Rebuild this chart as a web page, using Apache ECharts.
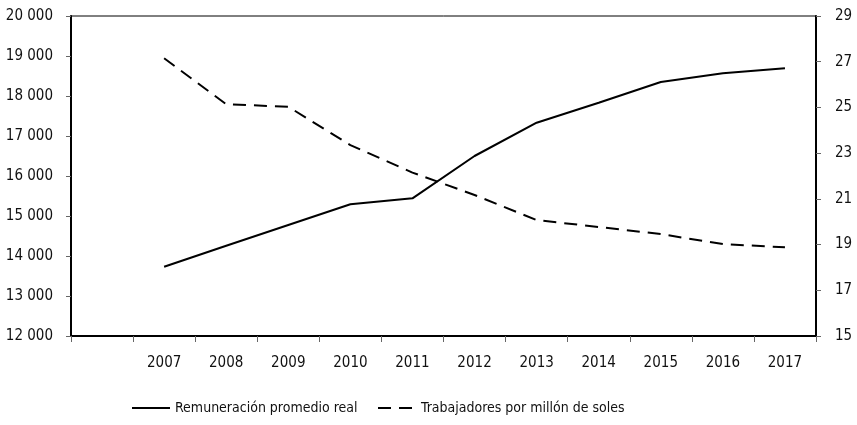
<!DOCTYPE html>
<html><head><meta charset="utf-8">
<script src="https://cdn.jsdelivr.net/npm/echarts@6/dist/echarts.min.js"></script>
<style>html,body{margin:0;padding:0;background:#fff}#c{width:857px;height:425px}</style>
</head><body><div id="c"></div>
<script>
const categories = ["", "2007","2008","2009","2010","2011","2012","2013","2014","2015","2016","2017"];
const remuneracion = [null, 13733, 14258, 14775, 15292, 15442, 16500, 17333, 17833, 18350, 18567, 18692];
const trabajadores = [null, 27.15, 25.14, 25.03, 23.35, 22.15, 21.17, 20.07, 19.77, 19.46, 19.02, 18.88];
const leftTicks = {min: 12000, max: 20000, interval: 1000};
const rightTicks = {min: 15, max: 29, interval: 2};
const seriesNames = ["Remuneración promedio real", "Trabajadores por millón de soles"];

const FONT = '"DejaVu Sans Condensed","Liberation Sans Narrow",sans-serif';
const chart = echarts.init(document.getElementById('c'), null, {renderer: 'canvas'});
const fmt = v => String(v).replace(/\B(?=(\d{3})+(?!\d))/g, ' ');
const legendText = {fontFamily: FONT, fontSize: 14, color: '#111'};
const DASH = [13, 8];
chart.setOption({
  animation: false,
  backgroundColor: '#fff',
  grid: {left: 71, right: 41, top: 16, bottom: 89, show: true, borderColor: '#000', borderWidth: 1},
  legend: [
    {left: 131, top: 401, padding: 0, itemWidth: 38, itemHeight: 14, textStyle: legendText,
     itemStyle: {opacity: 0}, lineStyle: {color: '#000', width: 2, type: 'solid'}, data: [seriesNames[0]]},
    {left: 377, top: 401, padding: 0, itemWidth: 38, itemHeight: 14, textStyle: legendText,
     itemStyle: {opacity: 0}, lineStyle: {color: '#000', width: 2, type: DASH}, data: [seriesNames[1]]}
  ],
  xAxis: {
    type: 'category', data: categories, boundaryGap: true,
    axisLine: {lineStyle: {color: '#000', width: 2}},
    axisTick: {show: true, length: 6, lineStyle: {color: '#666', width: 1}},
    axisLabel: {fontFamily: FONT, fontSize: 15, color: '#111', margin: 20, interval: 0},
    splitLine: {show: false}
  },
  yAxis: [{
    type: 'value', min: leftTicks.min, max: leftTicks.max, interval: leftTicks.interval,
    axisLine: {show: true, lineStyle: {color: '#000', width: 2}},
    axisTick: {show: true, length: 5, lineStyle: {color: '#666'}},
    axisLabel: {fontFamily: FONT, fontSize: 15, color: '#111', margin: 18, formatter: fmt},
    splitLine: {show: false}
  }, {
    type: 'value', min: rightTicks.min, max: rightTicks.max, interval: rightTicks.interval, position: 'right',
    axisLine: {show: true, lineStyle: {color: '#000', width: 2}},
    axisTick: {show: true, length: 5, lineStyle: {color: '#666'}},
    axisLabel: {fontFamily: FONT, fontSize: 15, color: '#111', margin: 19},
    splitLine: {show: false}
  }],
  series: [{
    name: seriesNames[0], type: 'line', yAxisIndex: 0, data: remuneracion,
    symbol: 'none', lineStyle: {color: '#000', width: 2}, itemStyle: {color: '#000'}
  }, {
    name: seriesNames[1], type: 'line', yAxisIndex: 1, data: trabajadores,
    symbol: 'none', lineStyle: {color: '#000', width: 2, type: DASH}, itemStyle: {color: '#000'}
  }]
});
</script></body></html>
